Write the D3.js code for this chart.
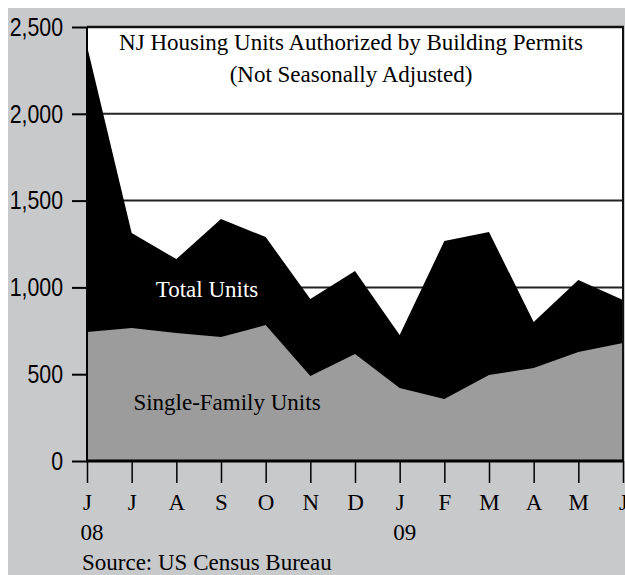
<!DOCTYPE html>
<html>
<head>
<meta charset="utf-8">
<script src="https://cdn.jsdelivr.net/npm/d3@7"></script>
<style>
  html, body { margin: 0; padding: 0; background: #fff; }
  svg { display: block; }
</style>
</head>
<body>
<svg id="chart" width="625" height="575"></svg>
<script>
const months = ['J', 'J', 'A', 'S', 'O', 'N', 'D', 'J', 'F', 'M', 'A', 'M', 'J']
const years = [{ i: 0, label: '08' }, { i: 7, label: '09' }]
const totalUnits = [2390, 1313, 1163, 1394, 1290, 933, 1094, 726, 1267, 1319, 800, 1043, 927]
const singleFamily = [743, 766, 737, 714, 783, 490, 616, 420, 357, 495, 536, 628, 680]
const yTicks = [0, 500, 1000, 1500, 2000, 2500]
const gridValues = [1000, 1500, 2000]

const plot = { left: 87, right: 623, top: 27, bottom: 461 }
const serif = '"Liberation Serif", "Times New Roman", serif'
const sans = '"Liberation Sans", Arial, sans-serif'
const narrow = 0.82

const svg = d3.select('#chart')

svg.append('rect').attr('x', 8).attr('y', 8).attr('width', 617).attr('height', 567)
	.attr('fill', '#c8c9cb')

svg.append('rect').attr('x', plot.left).attr('y', plot.top)
	.attr('width', plot.right - plot.left).attr('height', plot.bottom - plot.top)
	.attr('fill', '#fff')

const x = d3.scaleLinear().domain([0, months.length - 1]).range([plot.left, plot.right])
const y = d3.scaleLinear().domain([0, 2500]).range([plot.bottom, plot.top])

svg.append('g').selectAll('line').data(gridValues).enter().append('line')
	.attr('x1', plot.left).attr('x2', plot.right)
	.attr('y1', d => y(d)).attr('y2', d => y(d))
	.attr('stroke', '#222').attr('stroke-width', 2)

const area = vals => d3.area()
	.x((d, i) => x(i)).y0(y(0)).y1(d => y(d))(vals)

svg.append('path').attr('d', area(totalUnits)).attr('fill', '#000')
svg.append('path').attr('d', area(singleFamily)).attr('fill', '#9c9c9c')

// frame
svg.append('line').attr('x1', plot.left).attr('x2', plot.right + 1)
	.attr('y1', plot.top).attr('y2', plot.top).attr('stroke', '#111').attr('stroke-width', 2.5)
svg.append('line').attr('x1', plot.right).attr('x2', plot.right)
	.attr('y1', plot.top).attr('y2', plot.bottom).attr('stroke', '#111').attr('stroke-width', 2)
svg.append('line').attr('x1', plot.left).attr('x2', plot.left)
	.attr('y1', plot.top).attr('y2', plot.bottom).attr('stroke', '#000').attr('stroke-width', 2)

const yAxis = svg.append('g').attr('transform', `translate(${plot.left},0)`)
	.call(d3.axisLeft(y).tickValues(yTicks).tickFormat(d3.format(',')).tickSize(15))
yAxis.select('.domain').remove()
yAxis.selectAll('.tick line').attr('stroke', '#000').attr('stroke-width', 2)
// narrow sans labels, right edge at x = 63
yAxis.selectAll('.tick text').attr('fill', '#000')
	.attr('x', -24 / narrow).attr('transform', `scale(${narrow},1)`)
	.style('font-family', sans).style('font-size', '26px')

const xAxis = svg.append('g').attr('transform', `translate(0,${plot.bottom})`)
	.call(d3.axisBottom(x).tickValues(d3.range(months.length)).tickFormat(i => months[i])
		.tickSize(22).tickPadding(11))
xAxis.select('.domain').remove()
xAxis.selectAll('.tick line').attr('stroke', '#000').attr('stroke-width', 1.5)
xAxis.selectAll('.tick text').attr('fill', '#000')
	.style('font-family', serif).style('font-size', '23px')

svg.append('line').attr('x1', plot.left - 1).attr('x2', plot.right + 1)
	.attr('y1', plot.bottom).attr('y2', plot.bottom).attr('stroke', '#000').attr('stroke-width', 3)

svg.append('g').selectAll('text').data(years).enter().append('text')
	.attr('x', d => x(d.i) + 5).attr('y', 540).attr('text-anchor', 'middle')
	.style('font-family', serif).style('font-size', '23px')
	.text(d => d.label)

svg.append('text').attr('x', 82).attr('y', 570)
	.style('font-family', serif).style('font-size', '23px')
	.text('Source: US Census Bureau')

const title = svg.append('text').attr('text-anchor', 'middle')
	.style('font-family', serif).style('font-size', '23px')
title.append('tspan').attr('x', 351).attr('y', 50).text('NJ Housing Units Authorized by Building Permits')
title.append('tspan').attr('x', 351).attr('y', 82).text('(Not Seasonally Adjusted)')

svg.append('text').attr('x', 207).attr('y', 297).attr('text-anchor', 'middle')
	.attr('fill', '#fff').style('font-family', serif).style('font-size', '23px')
	.text('Total Units')

svg.append('text').attr('x', 227).attr('y', 410).attr('text-anchor', 'middle')
	.attr('fill', '#000').style('font-family', serif).style('font-size', '23px')
	.text('Single-Family Units')
</script>
</body>
</html>
